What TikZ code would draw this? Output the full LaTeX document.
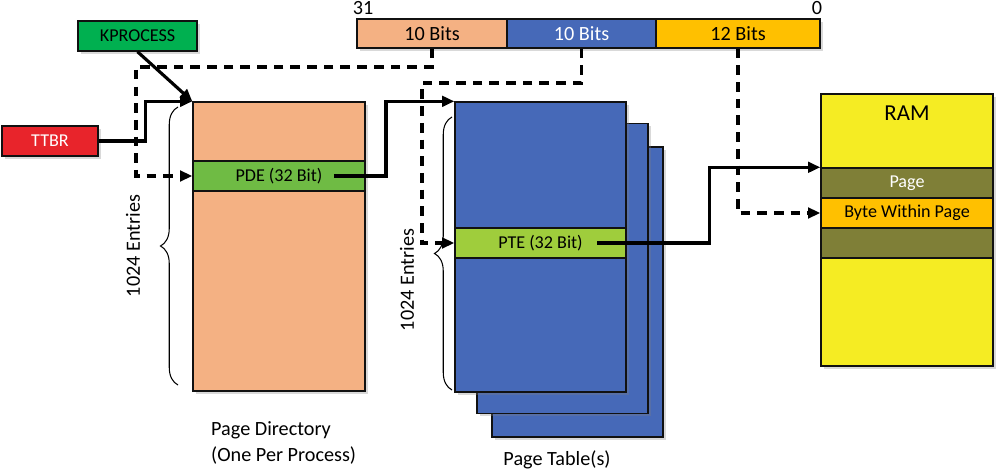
\documentclass[tikz,border=0pt]{standalone}
\usepackage{fontspec}
\setmainfont{Carlito}
\usetikzlibrary{decorations.pathreplacing,shadows,arrows.meta}
\definecolor{Ink}{HTML}{111111}
\definecolor{DirOrange}{HTML}{F4B183}
\definecolor{TblBlue}{HTML}{4669B8}
\definecolor{OffGold}{HTML}{FFC000}
\definecolor{PdeGreen}{HTML}{6FBB44}
\definecolor{PteLime}{HTML}{9FCD3C}
\definecolor{ProcGreen}{HTML}{00B050}
\definecolor{RegRed}{HTML}{E8242B}
\definecolor{RamYellow}{HTML}{F5EC23}
\definecolor{RamOlive}{HTML}{7F7F37}

\begin{document}
\begin{tikzpicture}[x=0.02cm,y=-0.02cm,font=\fontsize{10.3}{12}\selectfont,>={Stealth[length=7pt,width=6pt,inset=0pt]},
    box/.style={draw=Ink,line width=0.8pt,inner sep=0pt,drop shadow={shadow xshift=1.6pt,shadow yshift=-1.6pt,opacity=0.3}},
    band/.style={draw=Ink,line width=0.8pt,inner sep=0pt},
    link/.style={line width=1.8pt,->},
    hint/.style={line width=2pt,dash pattern=on 5.5pt off 4pt,->},
    span/.style={decorate,decoration={brace,amplitude=0.35cm,aspect=0.5},line width=0.6pt},
    big/.style={font=\fontsize{11.5}{14.5}\selectfont}]
      \useasboundingbox (0,0) rectangle (1000,472);
      % registers
      \node[box,fill=ProcGreen,minimum width=2.38cm,minimum height=0.6cm] (kprocess) at (137.5,36) {KPROCESS};
      \node[box,fill=RegRed,text=white,minimum width=1.92cm,minimum height=0.6cm] (ttbr) at (50,141) {TTBR};
      % virtual address
      \node[box,big,fill=DirOrange,minimum width=3cm,minimum height=0.58cm] (bitsdir) at (432,33.5) {10 Bits};
      \node[box,big,fill=TblBlue,text=white,minimum width=2.98cm,minimum height=0.58cm] (bitstbl) at (581.5,33.5) {10 Bits};
      \node[box,big,fill=OffGold,minimum width=3.28cm,minimum height=0.58cm] (bitsoff) at (738,33.5) {12 Bits};
      \node[big] (msb) at (363,8) {31};
      \node[big] (lsb) at (817,8) {0};
      % page directory
      \node[box,fill=DirOrange,minimum width=3.44cm,minimum height=5.78cm] (pagedir) at (279,246.5) {};
      \node[band,fill=PdeGreen,minimum width=3.44cm,minimum height=0.6cm] (pde) at (279,176) {PDE (32 Bit)};
      \draw[span] (178,385) -- (178,107);
      \node[big,rotate=90] (dirents) at (133,246) {1024 Entries};
      \node[big,align=left,anchor=west] (dirname) at (205,443) {Page Directory\\(One Per Process)};
      % page tables
      \foreach \cx/\cy/\nm in {577.5/292/back,562.5/268.5/mid}
        \node[box,fill=TblBlue,minimum width=3.42cm,minimum height=5.8cm] (tbl\nm) at (\cx,\cy) {};
      \node[box,fill=TblBlue,minimum width=3.42cm,minimum height=5.8cm] (pagetbl) at (540.5,247) {};
      \node[band,fill=PteLime,minimum width=3.42cm,minimum height=0.6cm] (pte) at (540.5,243) {PTE (32 Bit)};
      \draw[span] (452,390) -- (452,117);
      \node[big,rotate=90] (tblents) at (407,280) {1024 Entries};
      \node[big] (tblname) at (557,460) {Page Table(s)};
      % memory
      \node[box,fill=RamYellow,minimum width=3.44cm,minimum height=5.44cm] (ram) at (907,230) {};
      \node[font=\fontsize{13}{15}\selectfont] (ramtitle) at (907,113) {RAM};
      \node[band,fill=RamOlive,text=white,minimum width=3.44cm,minimum height=0.6cm] (rampage) at (907,183) {Page};
      \node[band,fill=OffGold,minimum width=3.44cm,minimum height=0.6cm] (rambyte) at (907,213) {Byte Within Page};
      \node[band,fill=RamOlive,minimum width=3.44cm,minimum height=0.6cm] (ramblank) at (907,243) {};
      % index lines
      \coordinate (dirturn) at (136,67);
      \coordinate (tblturn) at (422,83);
      \draw[hint] (bitsdir.south) |- (dirturn) |- (pde.west);
      \draw[hint] (bitstbl.south) |- (tblturn) |- (pte.west);
      \draw[hint] (bitsoff.south) |- (rambyte.west);
      % pointers
      \draw[link] (kprocess.south) -- (pagedir.north west);
      \draw[link] (ttbr.east) -- ++(47,0) |- (pagedir.north west);
      \draw[link] ([xshift=1.1cm]pde.center) -- ++(52,0) |- (pagetbl.north west);
      \draw[link] ([xshift=1.14cm]pte.center) -- ++(112,0) |- (rampage.north west);
    \end{tikzpicture}
\end{document}
